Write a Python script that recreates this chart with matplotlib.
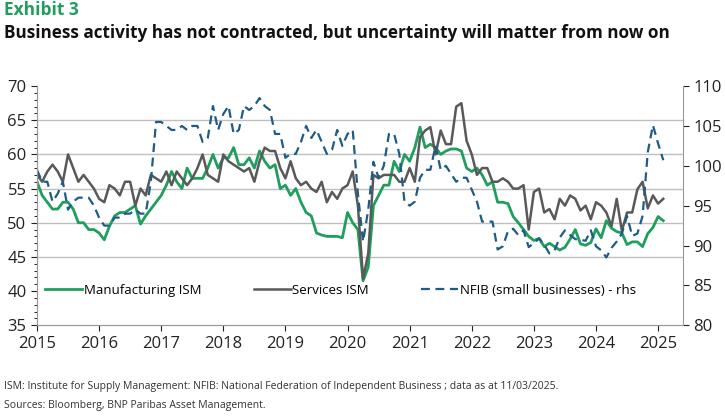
import numpy as np
import matplotlib
matplotlib.use('Agg')
import matplotlib.pyplot as plt
from matplotlib.ticker import MultipleLocator

# ── Datos mensuales (ene-2015 a feb-2025) ────────────────────────────────
manuf = [56,54,53,52,52,53,53,52,50,50,49,49,
         48.5,47.5,49.5,51,51.5,51.5,52,52.5,49.8,51,52,53,
         54,55.5,57.5,56,55,58,56.5,56.5,56.5,58,60,58,
         59.5,59.5,61,58.5,58.5,59.5,58,60.5,59,58,58.5,55,
         55.5,54,55,53,51.5,51,48.5,48.2,48,48,48,47.8,
         51.5,50,49,41.5,43.5,52.5,54,55.5,55.5,59,57.5,60,
         59,61,64,61,61.5,61,60,60.5,60.8,60.8,60.5,58,
         57.5,58,57,55.5,56,53,53,52.8,50.9,50,49,48,
         47.4,47.7,46.5,47,46.5,46,46.4,47.6,49,46.9,46.7,47.1,
         49.1,47.8,50.3,49.2,48.7,48.5,46.8,47.2,47.2,46.5,48.4,49.3,
         50.9,50.3]
services = [57,56,57.5,58.5,57.5,56,60,58,56,57,56,55,
            53.5,53,55.5,55,54,56,56,52.5,55,54,57,56.5,
            56,57.5,55.5,57.5,56.5,55.5,56.5,58,60,57,56.5,56,
            60,59,58.5,58,57.5,58,56,59,61,60.5,60.5,58,
            56.5,59,56.5,55.5,56,55,54.5,56,53,54.5,53.5,55,
            55.5,57.5,52.5,41.8,45.5,57,56.5,57,57,57,56,56,
            58,56,62.5,63.5,64,60,63.5,61.5,61.5,67,67.5,62,
            60,57,58,58,56,56,56.5,56,55,55,55.5,49,
            54.5,55,51.5,52,50.5,53.5,52.5,54,53.5,51.8,52.5,50.5,
            53,52.5,51.5,49.5,53.5,48.8,51.5,51.5,54.9,56,52.1,54,
            52.8,53.5]
nfib = [99.5,98,98,95.5,96.5,98,94.5,95.5,96,96,96,95,
        93.5,92.5,92.5,93.5,93.5,94,94,94.5,94,94,98,105.5,
        105.5,105,104.5,104.5,105,104.5,105,105,103,103.5,107.5,104.5,
        106.5,107.5,104,104.5,107.5,107,107.5,108.5,107.5,107,104,104,
        101,101.5,101.5,103,105,103.5,104.5,103,101.5,102,104.5,102.5,
        104,104.5,96.5,90.5,94.5,100.5,98.5,100,104,104,101.5,95.5,
        95,95.5,98.5,99.5,99.5,102.5,99.5,100,99,98,98.5,98.5,
        97,95.5,93,93,93,89.5,89.9,91.8,92.1,91.3,91.9,89.8,
        90.3,90.9,90.1,89,89.4,91,91.9,91.3,90.8,90.7,90.6,91.9,
        89.9,89.4,88.5,89.7,90.5,91.5,93.7,91.2,91.5,93.7,101.7,105.1,
        102.8,100.7]
years = list(range(2015, 2026))

t = 2015 + np.arange(len(manuf)) / 12

GREEN = '#1f9e5e'
GREY = '#595959'
BLUE = '#1f5c85'

plt.rcParams['font.family'] = ['Open Sans', 'DejaVu Sans']
fig = plt.figure(figsize=(7.25, 4.18), dpi=100)
ax = fig.add_axes([0.051, 0.222, 0.891, 0.572])
ax2 = ax.twinx()

for y in [45, 50, 55, 60, 65]:
    ax.axhline(y, color='#bfbfbf', lw=1, zorder=0)

l1, = ax.plot(t, manuf, color=GREEN, lw=2, label='Manufacturing ISM')
l2, = ax.plot(t, services, color=GREY, lw=1.8, label='Services ISM')
l3, = ax2.plot(t, nfib, color=BLUE, lw=1.6, ls=(0, (4, 2.5)),
               label='NFIB (small businesses) - rhs')

ax.set_xlim(2015, 2025.4)
ax.set_ylim(35, 70)
ax2.set_ylim(80, 110)
ax.set_xticks(years)
ax.yaxis.set_major_locator(MultipleLocator(5))
ax.yaxis.set_minor_locator(MultipleLocator(1))
ax2.yaxis.set_major_locator(MultipleLocator(5))
ax.tick_params(labelsize=12, colors='#222222', direction='out', length=4)
ax.tick_params(axis='y', which='minor', length=2)
ax2.tick_params(labelsize=12, colors='#222222', length=4)
for a in (ax, ax2):
    a.spines['top'].set_visible(False)
    for s in ('left', 'bottom', 'right'):
        a.spines[s].set_color('#999999')
ax.spines['right'].set_visible(False)

ax.legend(handles=[l1, l2, l3], loc='lower center', ncol=3, frameon=False,
          fontsize=9.5, bbox_to_anchor=(0.47, 0.07), columnspacing=4,
          handlelength=2.8, handletextpad=0.1)

fig.text(0.006, 0.965, 'Exhibit 3', color=GREEN, fontsize=12.5, fontweight='bold')
fig.text(0.006, 0.91, 'Business activity has not contracted, but uncertainty will matter from now on',
         color='#111111', fontsize=12.3, fontweight='bold')
fig.text(0.006, 0.07, 'ISM: Institute for Supply Management: NFIB: National Federation of Independent Business ; data as at 11/03/2025.',
         fontsize=7.5, color='#333333')
fig.text(0.006, 0.025, 'Sources: Bloomberg, BNP Paribas Asset Management.',
         fontsize=7.5, color='#333333')

fig.savefig('out.png', dpi=100)
